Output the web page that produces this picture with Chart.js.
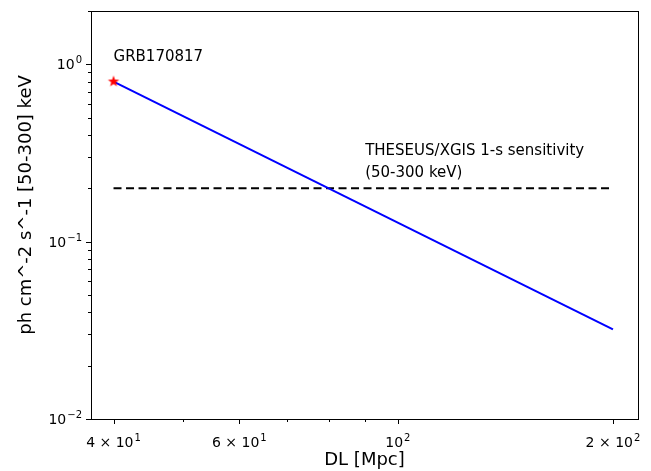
<!DOCTYPE html>
<html>
<head>
<meta charset="utf-8">
<script src="https://cdn.jsdelivr.net/npm/chart.js@4.4.1/dist/chart.umd.min.js"></script>
<style>
  html, body { margin: 0; padding: 0; background: #fff; }
</style>
</head>
<body>
<canvas id="fluxChart" width="651" height="471"></canvas>
<script>
// values
var distance = [40, 200];            // DL [Mpc]
var flux = [0.8, 0.032];             // ph cm^-2 s^-1, scales as 1/DL^2
var sensDistance = [40, 200];
var sensFlux = [0.2, 0.2];           // THESEUS/XGIS 1-s sensitivity
var grbPoint = [{ x: 40, y: 0.8 }];

var xMajorTicks = [40, 60, 100, 200];
var xTickLabels = ['4 × 10^1', '6 × 10^1', '10^2', '2 × 10^2'];
var xMinorTicks = [50, 70, 80, 90];
var yMajorTicks = [0.01, 0.1, 1];
var yTickLabels = ['10^−2', '10^−1', '10^0'];
var yMinorTicks = [0.02, 0.03, 0.04, 0.05, 0.06, 0.07, 0.08, 0.09,
                   0.2, 0.3, 0.4, 0.5, 0.6, 0.7, 0.8, 0.9, 2];

var FONT = "'DejaVu Sans', sans-serif";

// filled star for the GRB marker (matplotlib '*')
function makeStar(r, color) {
    var c = document.createElement('canvas');
    c.width = c.height = r * 2 + 2;
    var g = c.getContext('2d');
    g.translate(r + 1, r + 1);
    g.beginPath();
    for (var i = 0; i < 10; i++) {
        var rr = i % 2 === 0 ? r : r * 0.4;
        var a = -Math.PI / 2 + i * Math.PI / 5;
        g.lineTo(rr * Math.cos(a), rr * Math.sin(a));
    }
    g.closePath();
    g.fillStyle = color;
    g.fill();
    return c;
}

// "base^exp" drawn with a raised, smaller exponent
function drawSci(ctx, label, x, baseline, align) {
    var parts = label.split('^');
    ctx.font = '14px ' + FONT;
    var wb = ctx.measureText(parts[0]).width;
    ctx.font = '10px ' + FONT;
    var we = ctx.measureText(parts[1]).width;
    var w = wb + we + 1;
    var x0 = align === 'right' ? x - w : x - w / 2;
    ctx.textAlign = 'left';
    ctx.textBaseline = 'alphabetic';
    ctx.font = '14px ' + FONT;
    ctx.fillText(parts[0], x0, baseline);
    ctx.font = '10px ' + FONT;
    ctx.fillText(parts[1], x0 + wb + 1, baseline - 6);
}

// frame, tick marks, tick labels, y title and text annotations
var axesPlugin = {
    id: 'axesPlugin',
    afterDraw: function(chart) {
        var ctx = chart.ctx, a = chart.chartArea;
        var xs = chart.scales.x, ys = chart.scales.y;
        ctx.save();
        ctx.strokeStyle = '#000';
        ctx.lineWidth = 1;
        ctx.strokeRect(a.left + 0.5, a.top + 0.5, a.right - a.left, a.bottom - a.top);

        function xTick(v, len) {
            var px = Math.round(xs.getPixelForValue(v)) + 0.5;
            ctx.beginPath(); ctx.moveTo(px, a.bottom); ctx.lineTo(px, a.bottom + len); ctx.stroke();
        }
        function yTick(v, len) {
            var py = Math.round(ys.getPixelForValue(v)) + 0.5;
            ctx.beginPath(); ctx.moveTo(a.left, py); ctx.lineTo(a.left - len, py); ctx.stroke();
        }
        xMajorTicks.forEach(function(v) { xTick(v, 5); });
        xMinorTicks.forEach(function(v) { xTick(v, 3); });
        yMajorTicks.forEach(function(v) { yTick(v, 5); });
        yMinorTicks.forEach(function(v) { yTick(v, 3); });

        ctx.fillStyle = '#000';
        xMajorTicks.forEach(function(v, i) {
            drawSci(ctx, xTickLabels[i], xs.getPixelForValue(v), a.bottom + 28, 'center');
        });
        yMajorTicks.forEach(function(v, i) {
            drawSci(ctx, yTickLabels[i], a.left - 9, ys.getPixelForValue(v) + 5, 'right');
        });

        ctx.font = '15px ' + FONT;
        ctx.textAlign = 'left';
        ctx.textBaseline = 'middle';
        ctx.fillText('GRB170817', xs.getPixelForValue(40), ys.getPixelForValue(1.1));
        ctx.fillText('THESEUS/XGIS 1-s sensitivity', xs.getPixelForValue(90), ys.getPixelForValue(0.325));
        ctx.fillText('(50-300 keV)', xs.getPixelForValue(90), ys.getPixelForValue(0.245));

        ctx.translate(26, 205);
        ctx.rotate(-Math.PI / 2);
        ctx.textAlign = 'center';
        ctx.font = '18px ' + FONT;
        ctx.fillText('ph cm^-2 s^-1 [50-300] keV', 0, 0);
        ctx.restore();
    }
};

var ctx = document.getElementById('fluxChart');
new Chart(ctx, {
    type: 'scatter',
    data: {
        datasets: [{
            data: distance.map(function(d, i) { return { x: d, y: flux[i] }; }),
            showLine: true,
            borderColor: '#0000ff',
            borderWidth: 2,
            pointRadius: 0,
            order: 2
        }, {
            data: sensDistance.map(function(d, i) { return { x: d, y: sensFlux[i] }; }),
            showLine: true,
            borderColor: '#000',
            borderWidth: 2,
            borderDash: [8, 4.5],
            pointRadius: 0,
            order: 3
        }, {
            data: grbPoint,
            pointStyle: makeStar(6, '#ff0000'),
            pointRadius: 6,
            order: 1
        }]
    },
    options: {
        responsive: false,
        animation: false,
        devicePixelRatio: 1,
        layout: { padding: { top: 11, right: 13, left: 0, bottom: 0 } },
        plugins: { legend: { display: false }, tooltip: { enabled: false } },
        scales: {
            x: {
                type: 'logarithmic',
                min: 37.2,
                max: 216.8,
                grid: { display: false },
                border: { display: false },
                afterBuildTicks: function(s) { s.ticks = xMajorTicks.map(function(v) { return { value: v }; }); },
                afterFit: function(s) { s.height = 52; },
                ticks: { display: false },
                title: {
                    display: true,
                    text: 'DL [Mpc]',
                    color: '#000',
                    font: { family: FONT, size: 18 },
                    padding: { top: 0, bottom: 0 }
                }
            },
            y: {
                type: 'logarithmic',
                min: 0.01,
                max: 2.0,
                grid: { display: false },
                border: { display: false },
                afterBuildTicks: function(s) { s.ticks = yMajorTicks.map(function(v) { return { value: v }; }); },
                afterFit: function(s) { s.width = 91; },
                ticks: { display: false }
            }
        }
    },
    plugins: [axesPlugin]
});
</script>
</body>
</html>
